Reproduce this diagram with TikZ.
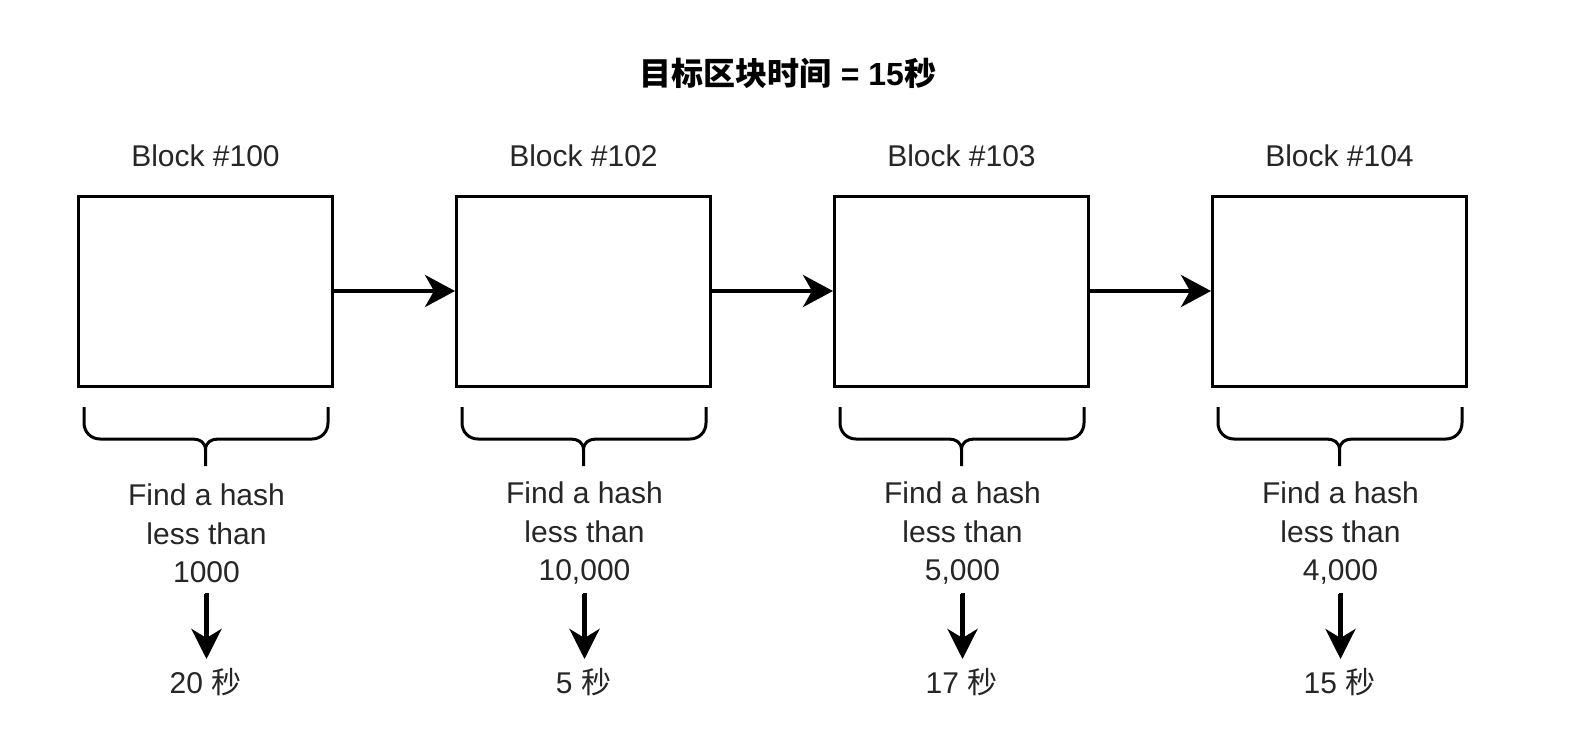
\documentclass[tikz,border=0pt]{standalone}
\usepackage{fontspec}
\setmainfont{Liberation Sans}
\newfontfamily\cjk{Noto Sans CJK SC}
\usetikzlibrary{arrows.meta}
\tikzset{
  blockbox/.style={draw=black, line width=3pt, minimum width=254pt, minimum height=190pt, inner sep=0pt, fill=white},
  lbl/.style={font=\fontsize{30}{38.5}\selectfont, inner sep=0pt, align=center, text=black!85},
  chainarrow/.style={line width=4pt, -{Stealth[length=30pt, width=32pt, inset=9pt]}},
  downarrow/.style={line width=4.5pt, -{Stealth[length=30pt, width=30pt, inset=9pt]}},
  bracepath/.style={line width=3pt},
}
\begin{document}
\begin{tikzpicture}[x=1pt,y=-1pt]
\useasboundingbox (0,0) rectangle (1580,750);
\fill[white] (0,0) rectangle (1580,750);

\node[lbl, font=\fontsize{32}{38}\selectfont\bfseries, text=black] (title) at (788,73) {{\cjk\bfseries 目标区块时间} = 15{\cjk\bfseries 秒}};

\foreach \i/\cx/\num/\lim/\sec in {1/205.5/100/1000/20, 2/583.5/102/{10,000}/5, 3/961.5/103/{5,000}/17, 4/1339.5/104/{4,000}/15} {
  \node[blockbox] (b\i) at (\cx,291) {};
  \node[lbl] (h\i) at (\cx,156) {Block \#\num};
  % brace
  \draw[bracepath] (\cx-121.5,407) -- (\cx-121.5,423) .. controls (\cx-121.5,432) and (\cx-114.5,439) .. (\cx-105.5,439)
     -- (\cx-13,439) .. controls (\cx-6,439) and (\cx,442) .. (\cx,450) -- (\cx,466);
  \draw[bracepath] (\cx+122.5,407) -- (\cx+122.5,423) .. controls (\cx+122.5,432) and (\cx+115.5,439) .. (\cx+106.5,439)
     -- (\cx+13,439) .. controls (\cx+6,439) and (\cx,442) .. (\cx,450);
  \node[lbl] (t\i) at (\cx+1,533.5) {Find a hash\\less than\\\lim};
  \coordinate (d\i) at (\cx+1,594);
  \coordinate (e\i) at (\cx+1,659);
  \draw[downarrow] (d\i) -- (e\i);
  \draw[line width=3pt] ([xshift=-2pt]d\i) -- ([xshift=2.5pt]d\i);
  \node[lbl] (s\i) at (\cx,682) {\sec\ {\cjk 秒}};
}

\draw[chainarrow] (b1.east) -- (b2.west);
\draw[chainarrow] (b2.east) -- (b3.west);
\draw[chainarrow] (b3.east) -- (b4.west);
\end{tikzpicture}
\end{document}
